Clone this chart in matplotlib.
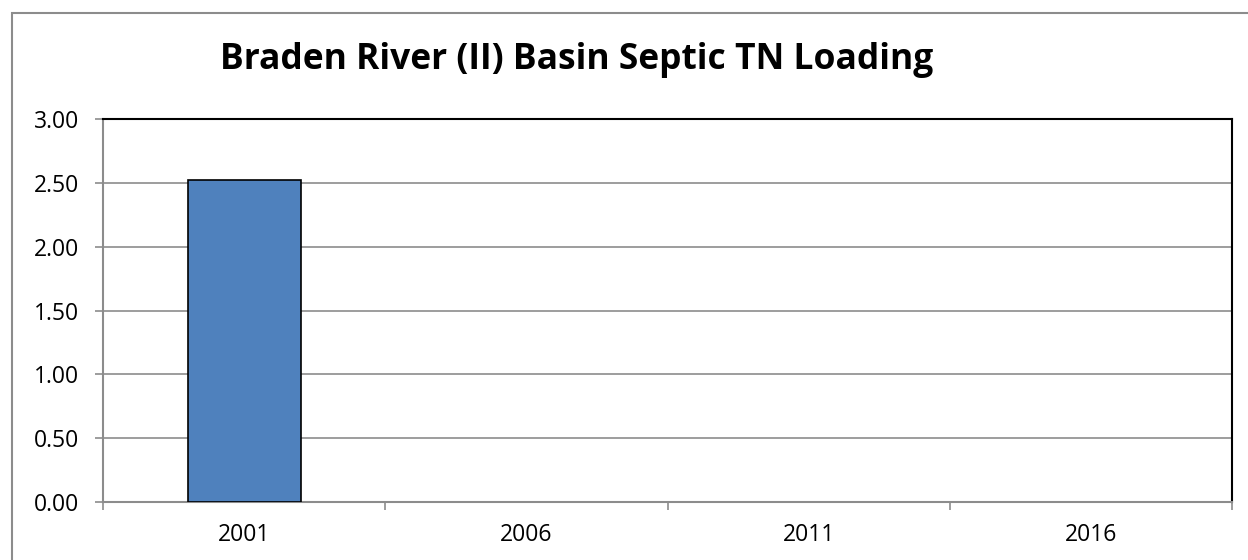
import matplotlib
matplotlib.use("Agg")
import matplotlib.pyplot as plt
from matplotlib.patches import Rectangle
import numpy as np

years = ["2001", "2006", "2011", "2016"]
tn_loading = [2.52, 0.0, 0.0, 0.0]
y_ticks = [0.0, 0.5, 1.0, 1.5, 2.0, 2.5, 3.0]

plt.rcParams["font.family"] = ["Open Sans", "DejaVu Sans"]

fig = plt.figure(figsize=(12.48, 5.6), dpi=100)
fig.patch.set_facecolor("white")

# outer chart border (right/bottom edges fall outside the image)
fig.patches.append(Rectangle((12 / 1248, -0.05), 1.1, 0.9768 + 0.05,
                             transform=fig.transFigure, fill=False,
                             edgecolor="#8c8c8c", linewidth=1.5))

ax = fig.add_axes([103 / 1248, 1 - 502 / 560, (1232 - 103) / 1248, (502 - 119) / 560])
x = np.arange(len(years))
edge_widths = [1.2 if v > 0 else 0 for v in tn_loading]
ax.bar(x, tn_loading, width=0.4, color="#4f81bd", edgecolor="black",
       linewidth=edge_widths, zorder=3)

ax.set_xlim(-0.5, len(years) - 0.5)
ax.set_ylim(0, 3)
ax.set_yticks(y_ticks)
ax.set_yticklabels([f"{v:.2f}" for v in y_ticks], fontsize=16.5)
ax.yaxis.grid(True, color="#8c8c8c", linewidth=1.2, zorder=0)

ax.set_xticks(x)
ax.set_xticklabels(years, fontsize=16.5)
ax.set_xticks(np.arange(len(years) + 1) - 0.5, minor=True)
ax.tick_params(axis="x", which="major", length=0, pad=15)
ax.tick_params(axis="x", which="minor", length=6, color="#8c8c8c", width=1.2)
ax.tick_params(axis="y", length=6, color="#8c8c8c", width=1.2, pad=11)

for side in ["top", "right"]:
    ax.spines[side].set_color("black")
    ax.spines[side].set_linewidth(1.5)
for side in ["left", "bottom"]:
    ax.spines[side].set_color("#8c8c8c")
    ax.spines[side].set_linewidth(1.5)

fig.text(577 / 1248, 1 - 60 / 560, "Braden River (II) Basin Septic TN Loading",
         ha="center", va="center", fontsize=25.5, fontweight="bold")

fig.savefig("out.png", dpi=100)
